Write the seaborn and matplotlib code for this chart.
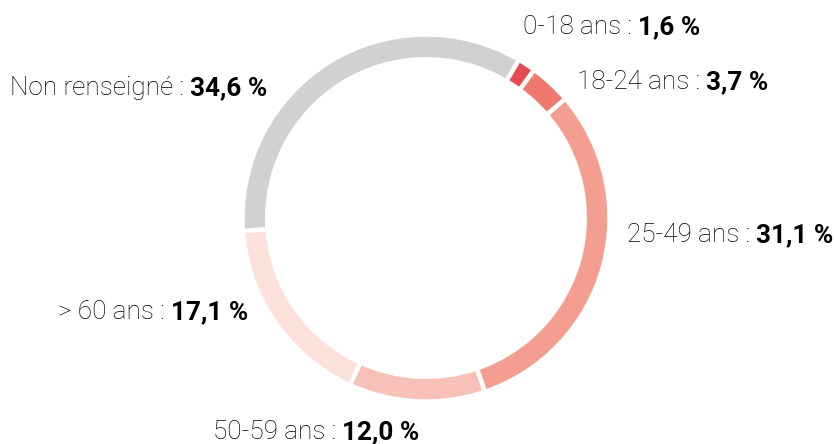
import numpy as np
import matplotlib
matplotlib.use("Agg")
import matplotlib.pyplot as plt
import seaborn as sns

# data
labels = ["0-18 ans", "18-24 ans", "25-49 ans", "50-59 ans", "> 60 ans", "Non renseigné"]
values = [1.6, 3.7, 31.1, 12.0, 17.1, 34.6]
value_text = ["1,6 %", "3,7 %", "31,1 %", "12,0 %", "17,1 %", "34,6 %"]
colors = ["#e84a51", "#f0786e", "#f49e92", "#f8c1b7", "#fce1db", "#d1d1d1"]

sns.set_theme(style="white")
plt.rcParams["font.family"] = ["Roboto", "DejaVu Sans"]

W, H = 837, 444
fig = plt.figure(figsize=(W / 100, H / 100), dpi=100)
ax = fig.add_axes([0, 0, 1, 1])

cx, cy, R = 426, 218, 183.5
ax.pie(values, colors=sns.color_palette(colors), startangle=90 - 30.4, counterclock=False,
       radius=1, wedgeprops=dict(width=0.135, edgecolor="white", linewidth=3.2))
ax.set_aspect("auto")
ax.set_xlim(-cx / R, (W - cx) / R)
ax.set_ylim(-(H - cy) / R, cy / R)
ax.axis("off")

# label anchors (left edge, vertical centre) in pixels from top-left
label_pos = [(523, 27), (577, 82), (627, 235), (213, 432), (58, 312), (10, 88)]

for name, val, (px, py) in zip(labels, value_text, label_pos):
    t = fig.text(px / W, 1 - py / H, name + " : ", fontsize=18.8, fontweight="light",
                 color="#000000", ha="left", va="center")
    ax.annotate(val, xy=(1, 0), xycoords=t, ha="left", va="bottom",
                fontsize=18.8, fontweight="bold", color="#000000")

fig.savefig("out.png", dpi=100)
